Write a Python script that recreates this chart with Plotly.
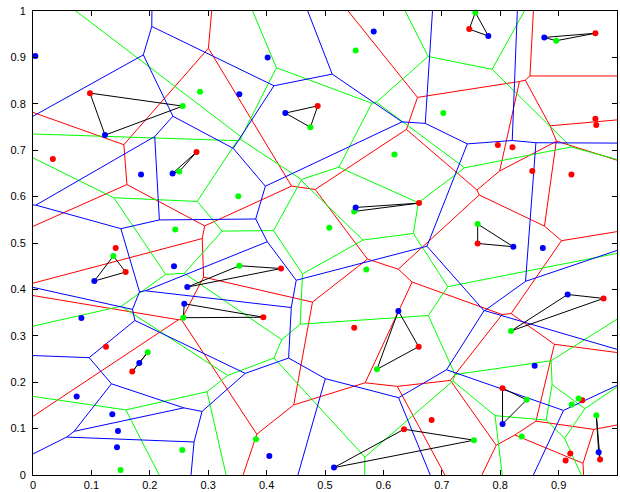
import numpy as np
import plotly.graph_objects as go

# Point sets (x, y). The first 16 entries of each set belong to the
# 16 red-green-blue triangles, in the same order.
red_x = [0.0976, 0.280, 0.4875, 0.747, 0.963, 0.661, 0.7614, 0.1587, 0.4247, 0.3944,
         0.170, 0.6604, 0.6353, 0.977, 0.804, 0.971,
         0.034, 0.963, 0.9645, 0.796, 0.821, 0.855, 0.922, 0.1416, 0.125, 0.550,
         0.6826, 0.9406, 0.920, 0.912]
red_y = [0.823, 0.696, 0.7955, 0.961, 0.952, 0.586, 0.499, 0.4375, 0.445, 0.340,
         0.2228, 0.2766, 0.0986, 0.3806, 0.187, 0.0334,
         0.681, 0.768, 0.7545, 0.711, 0.7066, 0.655, 0.6476, 0.489, 0.2766, 0.3175,
         0.1188, 0.161, 0.0463, 0.031]

green_x = [0.2563, 0.2505, 0.475, 0.7574, 0.896, 0.550, 0.7614, 0.1375, 0.3533, 0.2574,
           0.1964, 0.589, 0.755, 0.8185, 0.8453, 0.9646,
           0.286, 0.5525, 0.7026, 0.619, 0.3516, 0.2436, 0.5074, 0.5707, 0.150, 0.2557,
           0.3818, 0.8368, 0.9343, 0.9224]
green_y = [0.795, 0.654, 0.7496, 0.997, 0.936, 0.568, 0.5408, 0.472, 0.451, 0.339,
           0.2644, 0.2278, 0.075, 0.3104, 0.162, 0.129,
           0.826, 0.915, 0.780, 0.6906, 0.601, 0.529, 0.533, 0.443, 0.011, 0.054,
           0.077, 0.083, 0.1647, 0.1518]

blue_x = [0.1233, 0.239, 0.432, 0.7797, 0.8755, 0.5525, 0.8225, 0.105, 0.2642, 0.259,
          0.182, 0.6256, 0.5154, 0.9155, 0.804, 0.9686,
          0.004, 0.3533, 0.4018, 0.5834, 0.185, 0.2414, 0.873, 0.0828, 0.0748, 0.1358,
          0.1455, 0.1438, 0.4047, 0.859]
blue_y = [0.7325, 0.650, 0.780, 0.946, 0.943, 0.5766, 0.492, 0.418, 0.405, 0.369,
          0.2415, 0.3535, 0.016, 0.389, 0.110, 0.049,
          0.903, 0.8206, 0.900, 0.956, 0.6476, 0.450, 0.489, 0.3384, 0.169, 0.131,
          0.095, 0.060, 0.041, 0.2357]

n_triangles = 16

BOX = (-3.0, 4.0)


def clip_halfplane(poly, a, b):
    """Keep the part of a convex polygon where a . p <= b."""
    out = []
    n = len(poly)
    for k in range(n):
        p, q = poly[k], poly[(k + 1) % n]
        fp, fq = a @ p - b, a @ q - b
        if fp <= 0:
            out.append(p)
        if fp * fq < 0:
            t = fp / (fp - fq)
            out.append(p + t * (q - p))
    return out


def voronoi_segments(xs, ys):
    pts = np.column_stack([xs, ys]).astype(float)
    lo, hi = BOX
    seen = set()
    sx, sy = [], []
    for i, pi in enumerate(pts):
        poly = [np.array([lo, lo]), np.array([hi, lo]), np.array([hi, hi]), np.array([lo, hi])]
        for j, pj in enumerate(pts):
            if i == j:
                continue
            a = pj - pi
            b = a @ ((pi + pj) / 2)
            poly = clip_halfplane(poly, a, b)
        n = len(poly)
        for k in range(n):
            p, q = poly[k], poly[(k + 1) % n]
            on_box = any(abs(p[d] - v) < 1e-9 and abs(q[d] - v) < 1e-9
                         for d in (0, 1) for v in (lo, hi))
            if on_box:
                continue
            key = tuple(sorted([tuple(np.round(p, 7)), tuple(np.round(q, 7))]))
            if key in seen:
                continue
            seen.add(key)
            sx += [p[0], q[0], None]
            sy += [p[1], q[1], None]
    return sx, sy


fig = go.Figure()

sets = [
    (red_x, red_y, "#ff0000"),
    (green_x, green_y, "#00ff00"),
    (blue_x, blue_y, "#0000ff"),
]

for xs, ys, col in sets:
    vx, vy = voronoi_segments(xs, ys)
    fig.add_trace(go.Scatter(x=vx, y=vy, mode="lines",
                             line=dict(color=col, width=1), hoverinfo="skip"))

# Black triangles joining the matched red, green and blue points
tx, ty = [], []
for i in range(n_triangles):
    tx += [red_x[i], green_x[i], blue_x[i], red_x[i], None]
    ty += [red_y[i], green_y[i], blue_y[i], red_y[i], None]
fig.add_trace(go.Scatter(x=tx, y=ty, mode="lines",
                         line=dict(color="black", width=1), hoverinfo="skip"))

for xs, ys, col in sets:
    fig.add_trace(go.Scatter(x=xs, y=ys, mode="markers", cliponaxis=False,
                             marker=dict(color=col, size=6, line=dict(width=0))))

axis_common = dict(
    range=[0, 1], dtick=0.1, tick0=0, showgrid=False, zeroline=False,
    showline=True, linecolor="black", linewidth=1, mirror="allticks",
    ticks="inside", ticklen=5, tickcolor="black", tickwidth=1, automargin=False,
    tickfont=dict(family="Liberation Sans, Arial, sans-serif", size=11, color="black"),
)

fig.update_layout(
    width=620, height=492,
    margin=dict(l=33, r=3, t=11, b=17),
    plot_bgcolor="white", paper_bgcolor="white",
    showlegend=False,
    xaxis=dict(**axis_common, ticklabelstandoff=0),
    yaxis=dict(**axis_common, ticklabelstandoff=4),
)

fig.write_html("out.html")
